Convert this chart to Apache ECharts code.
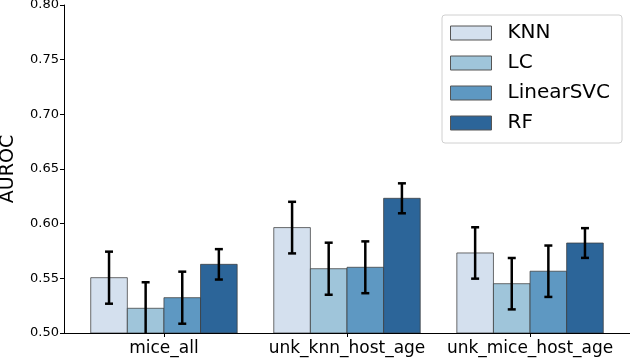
<!DOCTYPE html>
<html>
<head>
<meta charset="utf-8">
<script src="https://cdn.jsdelivr.net/npm/echarts@6/dist/echarts.min.js"></script>
<style>
  html, body { margin: 0; padding: 0; background: #fff; }
  #chart { width: 630px; height: 360px; }
</style>
</head>
<body>
<div id="chart"></div>
<script>
// data
var categories = ['mice_all', 'unk_knn_host_age', 'unk_mice_host_age'];
var methods = ['KNN', 'LC', 'LinearSVC', 'RF'];
var knnMean = [0.5506, 0.5964, 0.5732];
var knnErr = [0.0238, 0.0236, 0.0235];
var lcMean = [0.5226, 0.5588, 0.5451];
var lcErr = [0.0238, 0.0238, 0.0235];
var svcMean = [0.5323, 0.5601, 0.5565];
var svcErr = [0.0238, 0.0237, 0.0235];
var rfMean = [0.5628, 0.6232, 0.5823];
var rfErr = [0.0139, 0.0137, 0.0136];

var colors = ['#d4e0ee', '#9fc5da', '#5e98c2', '#2c6599'];
var means = [knnMean, lcMean, svcMean, rfMean];
var errs = [knnErr, lcErr, svcErr, rfErr];
var barW = 0.2;
var font = 'DejaVu Sans';

var chart = echarts.init(document.getElementById('chart'));

function makeSeries(k) {
    var data = categories.map(function (c, i) {
        return [i, means[k][i], errs[k][i]];
    });
    var offset = (k - 1.5) * barW;
    return {
        name: methods[k],
        type: 'custom',
        clip: true,
        itemStyle: { color: colors[k], borderColor: '#555', borderWidth: 1 },
        data: data,
        renderItem: function (params, api) {
            var x = api.value(0) + offset;
            var y = api.value(1);
            var e = api.value(2);
            var p0 = api.coord([x - barW / 2, y]);
            var p1 = api.coord([x + barW / 2, 0.5]);
            var pc = api.coord([x, y]);
            var pt = api.coord([x, y + e]);
            var pb = api.coord([x, y - e]);
            var cap = 4;
            var lineStyle = { stroke: '#000', lineWidth: 2.5 };
            return {
                type: 'group',
                children: [
                    {
                        type: 'rect',
                        shape: { x: p0[0], y: p0[1], width: p1[0] - p0[0], height: p1[1] - p0[1] },
                        style: { fill: colors[k], stroke: 'rgba(60,60,60,0.75)', lineWidth: 1 }
                    },
                    {
                        type: 'line',
                        shape: { x1: pc[0], y1: pt[1], x2: pc[0], y2: pb[1] },
                        style: lineStyle
                    },
                    {
                        type: 'line',
                        shape: { x1: pc[0] - cap, y1: pt[1], x2: pc[0] + cap, y2: pt[1] },
                        style: lineStyle
                    },
                    {
                        type: 'line',
                        shape: { x1: pc[0] - cap, y1: pb[1], x2: pc[0] + cap, y2: pb[1] },
                        style: lineStyle
                    }
                ]
            };
        }
    };
}

chart.setOption({
    animation: false,
    backgroundColor: '#fff',
    grid: { left: 64, right: 0, top: 5, bottom: 27, outerBoundsMode: 'none', containLabel: false },
    legend: {
        orient: 'vertical',
        left: 442,
        top: 15,
        width: 177,
        padding: [8, 12, 10, 8],
        backgroundColor: '#fff',
        borderColor: '#d0d0d0',
        borderWidth: 1,
        borderRadius: 3,
        itemWidth: 41,
        itemHeight: 14,
        itemGap: 10,
        textStyle: { fontFamily: font, fontSize: 20, lineHeight: 20, color: '#000', padding: [0, 0, 0, 11] },
        data: methods.map(function (m, k) {
            return { name: m, icon: 'rect', itemStyle: { color: colors[k], borderColor: '#555', borderWidth: 1 } };
        })
    },
    xAxis: {
        type: 'value',
        min: -0.546,
        max: 2.546,
        splitLine: { show: false },
        axisLine: { show: true, onZero: false, lineStyle: { color: '#000', width: 1 } },
        axisTick: { show: true, customValues: [0, 1, 2], length: 4, lineStyle: { color: '#000' } },
        axisLabel: {
            customValues: [0, 1, 2],
            formatter: function (v) { return categories[Math.round(v)]; },
            fontFamily: font,
            fontSize: 17,
            color: '#000',
            margin: 7
        }
    },
    yAxis: {
        type: 'value',
        min: 0.5,
        max: 0.8,
        interval: 0.05,
        name: 'AUROC',
        nameLocation: 'middle',
        nameRotate: 90,
        nameGap: 46,
        nameTextStyle: { fontFamily: font, fontSize: 19, color: '#000' },
        splitLine: { show: false },
        axisLine: { show: true, onZero: false, lineStyle: { color: '#000', width: 1 } },
        axisTick: { show: true, length: 4, lineStyle: { color: '#000' } },
        axisLabel: {
            fontFamily: font,
            fontSize: 13,
            color: '#000',
            margin: 5,
            formatter: function (v) { return v.toFixed(2); }
        }
    },
    series: methods.map(function (m, k) { return makeSeries(k); })
});
</script>
</body>
</html>
